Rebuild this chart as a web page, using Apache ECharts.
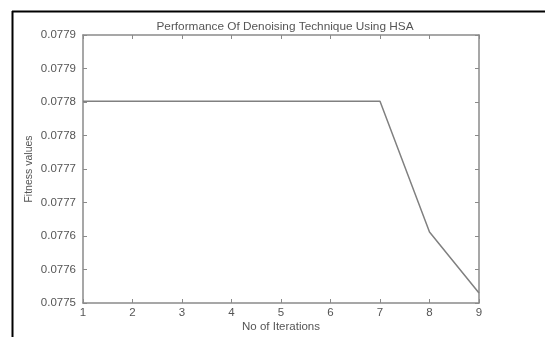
<!DOCTYPE html>
<html><head><meta charset="utf-8">
<script src="https://cdn.jsdelivr.net/npm/echarts@6/dist/echarts.min.js"></script>
<style>html,body{margin:0;padding:0;background:#fff}#c{width:545px;height:337px}</style>
</head><body><div id="c"></div>
<script>
const iterations = [1, 2, 3, 4, 5, 6, 7, 8, 9];
const fitness = [0.077801, 0.077801, 0.077801, 0.077801, 0.077801, 0.077801, 0.077801, 0.077606, 0.077515];
const yTickLabels = ['0.0775', '0.0776', '0.0776', '0.0777', '0.0777', '0.0778', '0.0778', '0.0779', '0.0779'];
const xTickLabels = ['1', '2', '3', '4', '5', '6', '7', '8', '9'];
const yMin = 0.0775, yMax = 0.0779, yStep = 0.00005;

const txt = '#555';
const axisCol = '#8a8a8a';
const font = 'Liberation Sans, Arial, sans-serif';
const chart = echarts.init(document.getElementById('c'));
const yIdx = v => Math.round((v - yMin) / yStep);
chart.setOption({
  animation: false,
  title: {text: 'Performance Of Denoising Technique Using HSA', left: 280, textAlign: 'center', top: 16,
    textStyle: {fontSize: 11.8, fontWeight: 'normal', color: txt, fontFamily: font}},
  grid: {left: 83, top: 35, width: 396, height: 268, containLabel: false, outerBoundsMode: 'none'},
  xAxis: [{type: 'value', min: 1, max: 9, interval: 1,
    name: 'No of Iterations', nameLocation: 'middle', nameGap: 18, nameMoveOverlap: false,
    nameTextStyle: {fontSize: 11.5, color: txt, fontFamily: font},
    axisLine: {lineStyle: {color: axisCol, width: 1.5}},
    axisTick: {inside: true, length: 4, lineStyle: {color: axisCol}},
    axisLabel: {fontSize: 11.5, color: txt, fontFamily: font, margin: 4, formatter: v => xTickLabels[Math.round(v) - 1]},
    splitLine: {show: false}},
   {type: 'value', position: 'top', min: 1, max: 9, interval: 1,
    axisLine: {lineStyle: {color: axisCol, width: 1.5}},
    axisTick: {inside: true, length: 4, lineStyle: {color: axisCol}},
    axisLabel: {show: false}, splitLine: {show: false}}],
  yAxis: [{type: 'value', min: yMin, max: yMax, interval: yStep,
    name: 'Fitness values', nameLocation: 'middle', nameGap: 48, nameRotate: 90, nameMoveOverlap: false,
    nameTextStyle: {fontSize: 10.5, color: txt, fontFamily: font},
    axisLine: {show: true, lineStyle: {color: axisCol, width: 1.5}},
    axisTick: {show: true, inside: true, length: 4, lineStyle: {color: axisCol}},
    axisLabel: {fontSize: 11.5, color: txt, fontFamily: font, margin: 7, formatter: v => yTickLabels[yIdx(v)]},
    splitLine: {show: false}},
   {type: 'value', position: 'right', min: yMin, max: yMax, interval: yStep,
    axisLine: {show: true, lineStyle: {color: axisCol, width: 1.5}},
    axisTick: {show: true, inside: true, length: 4, lineStyle: {color: axisCol}},
    axisLabel: {show: false}, splitLine: {show: false}}],
  series: [{type: 'line', data: iterations.map((x, i) => [x, fitness[i]]),
    showSymbol: false, symbol: 'none', lineStyle: {color: '#808080', width: 1.5}}],
  graphic: [
    {type: 'line', shape: {x1: 12.5, y1: 11, x2: 12.5, y2: 337}, style: {stroke: '#000', lineWidth: 2}},
    {type: 'line', shape: {x1: 12, y1: 11.5, x2: 545, y2: 11.5}, style: {stroke: '#000', lineWidth: 2}}
  ]
});
</script></body></html>
